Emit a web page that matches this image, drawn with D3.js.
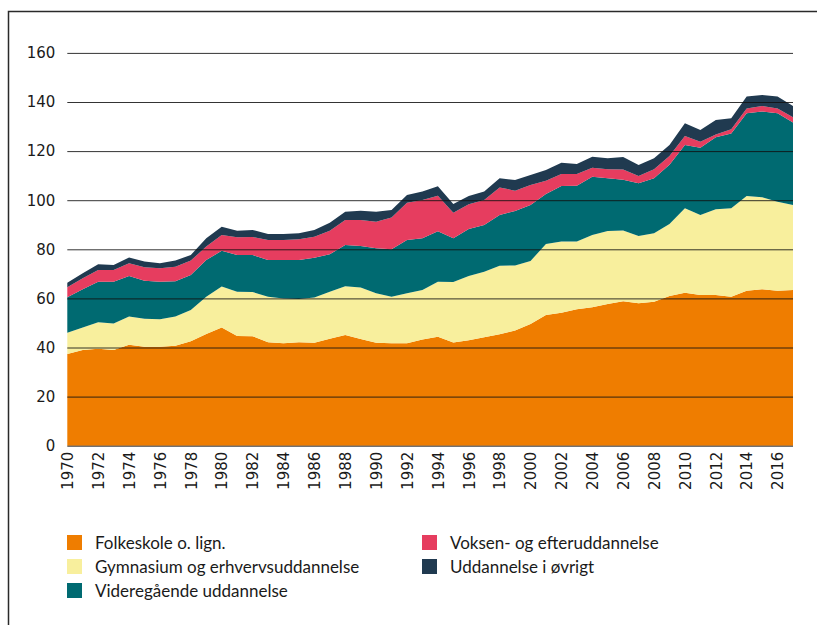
<!DOCTYPE html>
<html>
<head>
<meta charset="utf-8">
<script src="https://cdn.jsdelivr.net/npm/d3@7"></script>
<style>
  body { margin: 0; background: #fff; }
  svg text { font-family: "DejaVu Sans", sans-serif; fill: #1a1a1a; }
  .legend text { font-family: Lato, "Open Sans", sans-serif; }
</style>
</head>
<body>
<svg id="chart" width="817" height="625"></svg>
<script>
// years on the x axis
const years = [1970, 1971, 1972, 1973, 1974, 1975, 1976, 1977, 1978, 1979,
  1980, 1981, 1982, 1983, 1984, 1985, 1986, 1987, 1988, 1989,
  1990, 1991, 1992, 1993, 1994, 1995, 1996, 1997, 1998, 1999,
  2000, 2001, 2002, 2003, 2004, 2005, 2006, 2007, 2008, 2009,
  2010, 2011, 2012, 2013, 2014, 2015, 2016, 2017];

// series values (stacked, bottom to top)
const folkeskole = [37.4, 39.0, 39.5, 39.0, 41.1, 40.3, 40.3, 40.7, 42.5, 45.5,
  48.1, 44.7, 44.6, 42.1, 41.7, 42.1, 41.9, 43.6, 45.1, 43.5,
  41.9, 41.7, 41.7, 43.3, 44.4, 42.0, 43.0, 44.2, 45.4, 46.9,
  49.6, 53.2, 54.2, 55.6, 56.4, 57.7, 58.8, 58.0, 58.6, 61.0,
  62.3, 61.4, 61.4, 60.7, 63.1, 63.7, 63.1, 63.4];
const gymnasium = [8.6, 9.1, 10.8, 10.8, 11.5, 11.4, 11.2, 11.9, 12.8, 15.2,
  16.7, 18.0, 18.0, 18.6, 18.3, 17.7, 18.5, 19.1, 19.9, 20.9,
  20.2, 19.0, 20.4, 20.1, 22.4, 24.7, 26.1, 26.7, 27.9, 26.5,
  25.6, 29.0, 29.0, 27.6, 29.4, 29.8, 28.9, 27.4, 27.9, 29.3,
  34.4, 32.6, 34.9, 36.0, 38.6, 37.5, 36.3, 34.6];
const videregaaende = [14.5, 15.6, 16.5, 17.0, 16.5, 15.5, 15.3, 14.4, 14.2, 14.9,
  14.6, 15.0, 15.1, 14.9, 15.6, 15.8, 16.2, 15.3, 16.8, 16.9,
  18.3, 19.3, 21.7, 21.1, 20.6, 17.8, 19.2, 19.0, 20.7, 22.2,
  22.8, 20.3, 22.6, 22.7, 23.8, 21.4, 20.6, 21.5, 22.4, 24.1,
  25.8, 27.4, 29.3, 30.5, 33.7, 34.9, 36.0, 33.6];
const voksen = [4.0, 4.5, 4.8, 4.8, 5.2, 5.5, 5.5, 5.9, 5.9, 5.5,
  6.4, 7.2, 7.3, 8.2, 8.2, 8.5, 8.5, 9.6, 10.1, 10.6,
  10.8, 13.0, 15.2, 15.6, 14.4, 10.4, 10.0, 10.2, 11.2, 8.3,
  8.2, 5.4, 4.9, 4.8, 3.6, 3.7, 4.2, 3.0, 3.7, 3.6,
  3.7, 2.4, 1.2, 1.7, 2.0, 2.3, 2.0, 2.2];
const oevrigt = [1.9, 2.0, 2.3, 2.0, 2.4, 2.3, 2.0, 2.5, 2.3, 3.4,
  3.4, 2.7, 2.9, 2.4, 2.4, 2.4, 2.8, 3.2, 3.4, 3.8,
  4.1, 3.0, 3.1, 3.4, 3.9, 3.6, 3.4, 3.4, 3.7, 4.3,
  4.1, 4.4, 4.6, 4.0, 4.5, 4.5, 5.1, 4.4, 4.5, 4.5,
  5.1, 4.8, 5.9, 4.5, 4.8, 4.5, 4.8, 4.6];

const seriesNames = ["Folkeskole o. lign.", "Gymnasium og erhvervsuddannelse",
  "Videregående uddannelse", "Voksen- og efteruddannelse", "Uddannelse i øvrigt"];
const seriesColors = ["#ef7d00", "#f8ef9d", "#006a71", "#e63d5f", "#203a50"];

// tick labels
const yTicks = [0, 20, 40, 60, 80, 100, 120, 140, 160];
const xTicks = [1970, 1972, 1974, 1976, 1978, 1980, 1982, 1984, 1986, 1988,
  1990, 1992, 1994, 1996, 1998, 2000, 2002, 2004, 2006, 2008,
  2010, 2012, 2014, 2016];

const svg = d3.select("#chart");

// frame round the figure (only top and left edges show)
svg.append("path")
  .attr("d", "M8.5,625 V11.5 H817")
  .attr("fill", "none")
  .attr("stroke", "#2a2a2a")
  .attr("stroke-width", 1.5);

const plotLeft = 67.3, plotRight = 793, plotTop = 52.9, plotBottom = 445.7;

const x = d3.scaleLinear().domain([1970, 2017]).range([plotLeft, plotRight]);
const y = d3.scaleLinear().domain([0, 160]).range([plotBottom, plotTop]);

// build table for d3.stack
const allSeries = [folkeskole, gymnasium, videregaaende, voksen, oevrigt];
const table = years.map((yr, i) => {
  const row = { year: yr };
  seriesNames.forEach((name, s) => { row[name] = allSeries[s][i]; });
  return row;
});

const stacked = d3.stack().keys(seriesNames)(table);

const area = d3.area()
  .x((d) => x(d.data.year))
  .y0((d) => y(d[0]))
  .y1((d) => y(d[1]));

svg.append("g")
  .selectAll("path")
  .data(stacked)
  .enter()
  .append("path")
  .attr("d", area)
  .attr("fill", (d, i) => seriesColors[i]);

// gridlines go on top of the areas
const yAxis = d3.axisLeft(y).tickValues(yTicks).tickSize(-(plotRight - plotLeft)).tickPadding(12);
const gy = svg.append("g").attr("transform", `translate(${plotLeft},0)`).call(yAxis);
gy.select(".domain").remove();
gy.selectAll(".tick line").attr("stroke", "#111").attr("stroke-opacity", 0.85);
gy.selectAll(".tick text").attr("font-size", 15).attr("fill", "#1a1a1a");

const xAxis = d3.axisBottom(x).tickValues(xTicks).tickFormat(d3.format("d")).tickSize(0);
const gx = svg.append("g").attr("transform", `translate(0,${plotBottom})`).call(xAxis);
gx.select(".domain").remove();
gx.selectAll(".tick text")
  .attr("font-size", 15)
  .attr("fill", "#1a1a1a")
  .attr("text-anchor", "end")
  .attr("transform", "rotate(-90)")
  .attr("x", -6)
  .attr("y", 0)
  .attr("dy", "0.35em");

// legend, two columns
const legendPos = [[67, 543], [67, 567], [67, 591], [422, 543], [422, 567]];
const legend = svg.append("g").attr("class", "legend");
seriesNames.forEach((name, i) => {
  const g = legend.append("g").attr("transform", `translate(${legendPos[i][0]},${legendPos[i][1]})`);
  g.append("rect")
    .attr("x", 0).attr("y", -8)
    .attr("width", 15).attr("height", 15)
    .attr("fill", seriesColors[i]);
  g.append("text")
    .attr("x", 28).attr("y", 0)
    .attr("dy", "0.35em")
    .attr("font-size", 17)
    .text(name);
});
</script>
</body>
</html>
